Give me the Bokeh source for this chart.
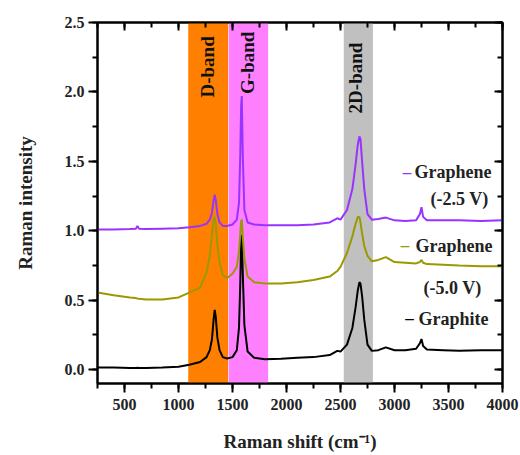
import math
from bokeh.plotting import figure
from bokeh.models import (Range1d, LinearAxis, SingleIntervalTicker,
                          NumeralTickFormatter, BoxAnnotation, Label,
                          CustomJSTickFormatter)
from bokeh.embed import file_html
from bokeh.resources import INLINE

# ---------------- data ----------------
raman_shift = [250, 400, 550, 605, 620, 635, 700, 850, 1000, 1100,
               1200, 1260, 1290, 1310, 1325, 1335, 1345, 1360, 1380, 1410,
               1450, 1500, 1540, 1560, 1572, 1580, 1586, 1595, 1610, 1640,
               1700, 1800, 1950, 2100, 2250, 2400, 2470, 2500, 2560, 2610,
               2640, 2660, 2675, 2685, 2700, 2720, 2750, 2790, 2850, 2920,
               3000, 3100, 3200, 3235, 3250, 3265, 3300, 3450, 3600, 3800,
               4000]

graphite = [0.015, 0.015, 0.012, 0.012, 0.013, 0.012, 0.012, 0.015, 0.02, 0.035,
            0.055, 0.09, 0.14, 0.22, 0.36, 0.43, 0.38, 0.23, 0.14, 0.09,
            0.08, 0.09, 0.14, 0.30, 0.62, 0.93, 0.97, 0.70, 0.32, 0.13,
            0.085, 0.075, 0.078, 0.085, 0.09, 0.105, 0.135, 0.13, 0.18, 0.30,
            0.45, 0.57, 0.63, 0.62, 0.53, 0.36, 0.18, 0.135, 0.14, 0.16,
            0.14, 0.14, 0.15, 0.19, 0.22, 0.17, 0.145, 0.14, 0.135, 0.14,
            0.14]

graphene_m50 = [0.555, 0.535, 0.52, 0.515, 0.512, 0.51, 0.505, 0.505, 0.52, 0.555,
                0.59, 0.70, 0.82, 0.97, 1.08, 1.10, 1.05, 0.90, 0.77, 0.68,
                0.66, 0.69, 0.74, 0.85, 0.98, 1.07, 1.08, 0.96, 0.80, 0.67,
                0.63, 0.62, 0.62, 0.63, 0.645, 0.67, 0.71, 0.74, 0.84, 0.96,
                1.05, 1.10, 1.10, 1.06, 0.98, 0.89, 0.82, 0.78, 0.79, 0.81,
                0.775, 0.77, 0.765, 0.775, 0.79, 0.77, 0.76, 0.755, 0.75, 0.745,
                0.745]

graphene_m25 = [1.01, 1.01, 1.012, 1.015, 1.035, 1.015, 1.012, 1.015, 1.018, 1.025,
                1.035, 1.05, 1.08, 1.13, 1.22, 1.26, 1.22, 1.12, 1.06, 1.035,
                1.035, 1.045, 1.08, 1.20, 1.55, 1.90, 1.97, 1.55, 1.15, 1.06,
                1.045, 1.04, 1.04, 1.04, 1.045, 1.06, 1.09, 1.08, 1.15, 1.30,
                1.48, 1.62, 1.68, 1.66, 1.50, 1.30, 1.12, 1.08, 1.085, 1.095,
                1.075, 1.07, 1.075, 1.12, 1.17, 1.10, 1.075, 1.075, 1.075, 1.07,
                1.075]

band_names = ["D-band", "G-band", "2D-band"]
band_left = [1090, 1465, 2530]
band_right = [1460, 1830, 2800]
band_colors = ["#FF8000", "#FF80FF", "#C0C0C0"]

series_names = ["Graphene", "Graphene", "Graphite"]
series_notes = ["(-2.5 V)", "(-5.0 V)", ""]
series_colors = ["#9933FF", "#999900", "#000000"]

x_tick_interval = 500
y_tick_interval = 0.5

# ---------------- figure ----------------
FONT = "Liberation Serif"

p = figure(width=520, height=455,
           x_range=Range1d(250, 4000), y_range=Range1d(-0.1, 2.5),
           output_backend="svg", toolbar_location=None,
           min_border_left=97, min_border_right=18,
           min_border_top=22, min_border_bottom=72,
           x_axis_label="Raman shift (cm\u207b\u00b9)",
           y_axis_label="Raman intensity")
p.xgrid.visible = False
p.ygrid.visible = False
p.outline_line_color = "black"
p.outline_line_width = 2
p.background_fill_color = "white"
p.border_fill_color = "white"

xt = SingleIntervalTicker(interval=x_tick_interval, num_minor_ticks=2)
yt = SingleIntervalTicker(interval=y_tick_interval, num_minor_ticks=2)


def style_axis(ax, ticker, outward, show_labels):
    ax.ticker = ticker
    ax.axis_line_width = 2
    ax.axis_line_color = "black"
    ax.major_tick_line_width = 2
    ax.minor_tick_line_width = 2
    if outward:
        ax.major_tick_out = 9
        ax.major_tick_in = 0
        ax.minor_tick_out = 5
        ax.minor_tick_in = 0
    else:
        ax.major_tick_out = 0
        ax.major_tick_in = 8
        ax.minor_tick_out = 0
        ax.minor_tick_in = 5
    ax.major_label_text_font = FONT
    ax.major_label_text_font_style = "bold"
    ax.major_label_text_color = "#222222"
    ax.major_label_text_font_size = "16px"
    if not show_labels:
        ax.formatter = CustomJSTickFormatter(code='return ""')
        ax.major_label_standoff = 0
    ax.axis_label_text_font = FONT
    ax.axis_label_text_font_style = "bold"
    ax.axis_label_text_font_size = "19px"
    ax.axis_label_text_color = "#222222"


style_axis(p.xaxis[0], xt, True, True)
style_axis(p.yaxis[0], yt, True, True)
p.xaxis[0].major_label_standoff = 6
p.xaxis[0].axis_label_standoff = 18
p.yaxis[0].major_label_standoff = 4
p.yaxis[0].axis_label_standoff = 26
p.yaxis[0].formatter = NumeralTickFormatter(format="0.0")

top_ax = LinearAxis()
style_axis(top_ax, xt, False, False)
p.add_layout(top_ax, "above")
right_ax = LinearAxis()
style_axis(right_ax, yt, False, False)
p.add_layout(right_ax, "right")

# bands
for left, right, color in zip(band_left, band_right, band_colors):
    p.add_layout(BoxAnnotation(left=left, right=right, fill_color=color,
                               fill_alpha=1.0, line_color=None,
                               level="underlay"))

# spectra
for ys, color in [(graphite, series_colors[2]),
                  (graphene_m50, series_colors[1]),
                  (graphene_m25, series_colors[0])]:
    p.line(raman_shift, ys, line_color=color, line_width=2)

# band labels (rotated)
band_label_x = [1268, 1639, 2639]
band_label_y = [2.18, 2.21, 2.10]
for name, bx, by in zip(band_names, band_label_x, band_label_y):
    p.add_layout(Label(x=bx, y=by, text=name, angle=math.pi / 2,
                       text_align="center", text_baseline="middle",
                       text_font=FONT, text_font_style="bold",
                       text_font_size="19px", text_color="#111111"))

# in-plot legend
swatch_x = [3116, 3097, 3139]
name_x = [3185, 3194, 3222]
name_y = [1.42, 0.893, 0.367]
note_x = [3333, 3269, 0]
note_y = [1.232, 0.591, 0]
for i in range(3):
    p.add_layout(Label(x=swatch_x[i], y=name_y[i], text="\u2013",
                       text_align="center", text_baseline="middle",
                       text_font=FONT, text_font_style="bold",
                       text_font_size="17px", text_color=series_colors[i]))
    p.add_layout(Label(x=name_x[i], y=name_y[i], text=series_names[i],
                       text_align="left", text_baseline="middle",
                       text_font=FONT, text_font_style="bold",
                       text_font_size="18px", text_color="#222222"))
    if series_notes[i]:
        p.add_layout(Label(x=note_x[i], y=note_y[i], text=series_notes[i],
                           text_align="left", text_baseline="middle",
                           text_font=FONT, text_font_style="bold",
                           text_font_size="18px", text_color="#222222"))

open("out.html", "w").write(file_html(p, INLINE))
